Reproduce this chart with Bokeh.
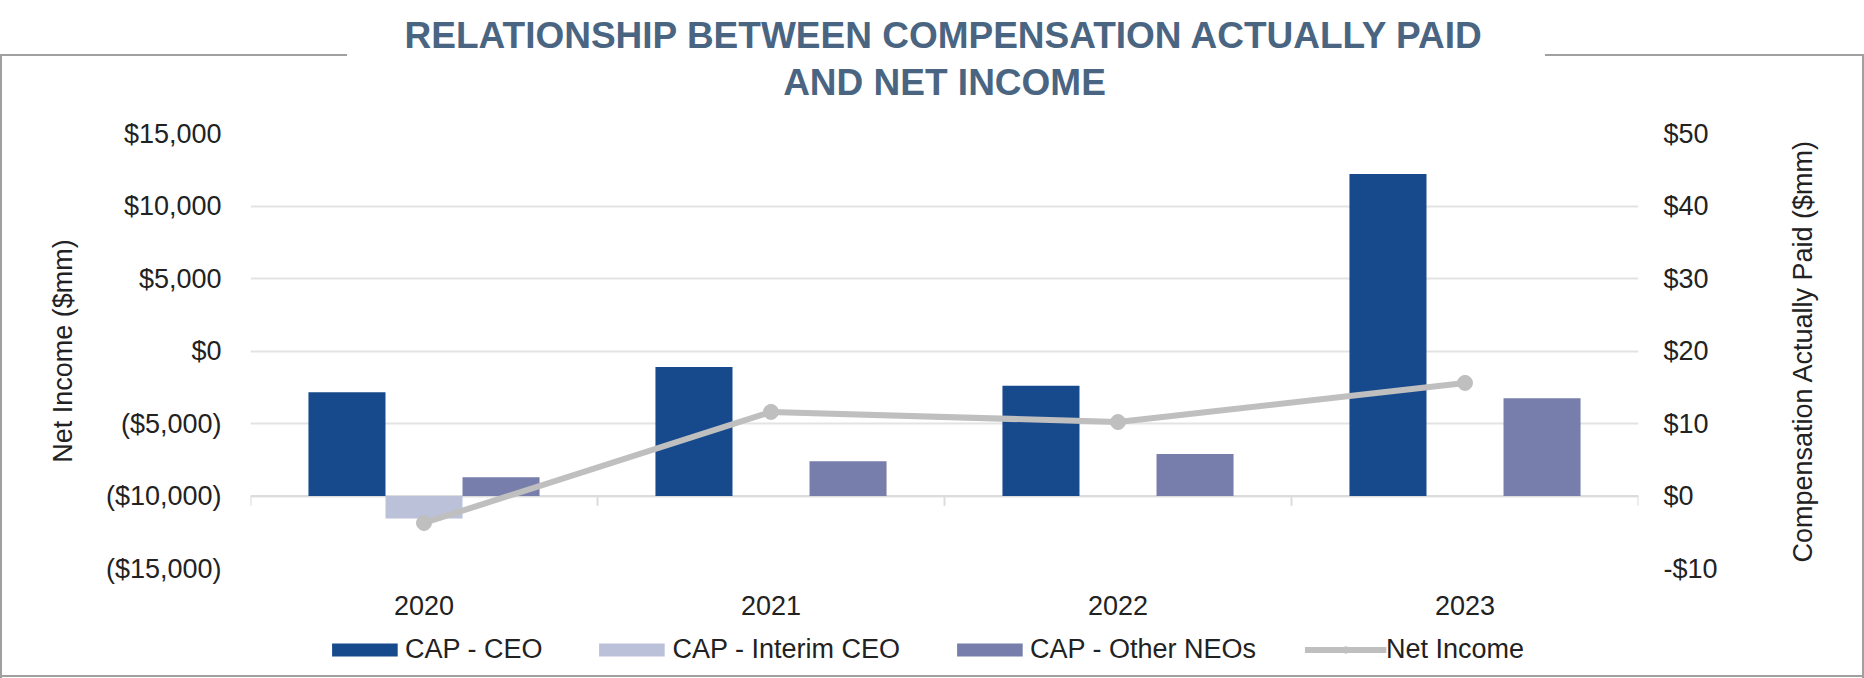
import math
import numpy as np
from bokeh.plotting import figure
from bokeh.layouts import column, row
from bokeh.models import (Range1d, LinearAxis, FixedTicker, Legend, LegendItem,
                          Title, ColumnDataSource)
from bokeh.core.properties import value
from bokeh.embed import file_html
from bokeh.resources import INLINE

# ---------------- data ----------------
years = ["2020", "2021", "2022", "2023"]
cap_ceo = [14.3, 17.8, 15.2, 44.4]            # $mm, right axis
cap_interim = [-3.1, np.nan, np.nan, np.nan]  # $mm, right axis
cap_other = [2.6, 4.8, 5.8, 13.5]             # $mm, right axis
net_income = [-11860, -4200, -4900, -2200]    # $mm, left axis

left_ticks = [-15000, -10000, -5000, 0, 5000, 10000, 15000]
left_tick_labels = ["($15,000)", "($10,000)", "($5,000)", "$0", "$5,000", "$10,000", "$15,000"]
right_ticks = [-10, 0, 10, 20, 30, 40, 50]
right_tick_labels = ["-$10", "$0", "$10", "$20", "$30", "$40", "$50"]

series_labels = ["CAP - CEO", "CAP - Interim CEO", "CAP - Other NEOs", "Net Income"]
title_lines = ["RELATIONSHIP BETWEEN COMPENSATION ACTUALLY PAID", "AND NET INCOME"]
left_axis_title = "Net Income ($mm)"
right_axis_title = "Compensation Actually Paid ($mm)"

# ---------------- styles ----------------
FONT = "Liberation Sans"
TXT = "#222222"
C_CEO = "#174a8c"
C_INT = "#bcc1da"
C_OTH = "#777eab"
C_NI = "#bfbfbf"
GRID = "#e3e3e3"
FRAME = "#a0a0a0"
TITLE_C = "#4a6582"

W, H = 1864, 678
H_MAIN = 620
W_RT = 104            # strip that carries the right-hand axis title
TOP, BOTTOM = 133, 52

n = len(years)
xc = np.arange(n) + 0.5
bw = 0.222

src = ColumnDataSource(dict(
    x=xc, x_ceo=xc - bw, x_int=xc, x_oth=xc + bw,
    ceo=cap_ceo, interim=cap_interim, other=cap_other, ni=net_income,
))

p = figure(width=W - W_RT, height=H_MAIN, x_range=Range1d(0, n),
           y_range=Range1d(left_ticks[0], left_ticks[-1]),
           output_backend="svg", toolbar_location=None, title=None,
           min_border_left=250, min_border_right=W - W_RT - 1638,
           min_border_top=TOP, min_border_bottom=BOTTOM)
p.extra_y_ranges = {"cap": Range1d(right_ticks[0], right_ticks[-1])}
p.outline_line_color = None
p.background_fill_color = None
p.border_fill_color = None

# grid
p.xgrid.visible = False
p.ygrid.ticker = FixedTicker(ticks=left_ticks)
p.ygrid.grid_line_color = GRID
p.ygrid.grid_line_width = 2

# x axis (category labels)
xa = p.xaxis[0]
xa.ticker = FixedTicker(ticks=list(xc))
xa.major_label_overrides = {float(v): y for v, y in zip(xc, years)}
xa.axis_line_color = None
xa.major_tick_line_color = None
xa.minor_tick_line_color = None
xa.major_label_text_font = FONT
xa.major_label_text_font_size = "27px"
xa.major_label_text_color = TXT
xa.major_label_standoff = 21

# left axis
ya = p.yaxis[0]
ya.ticker = FixedTicker(ticks=left_ticks)
ya.major_label_overrides = {v: s for v, s in zip(left_ticks, left_tick_labels)}
ya.axis_line_color = None
ya.major_tick_line_color = None
ya.minor_tick_line_color = None
ya.major_label_text_font = FONT
ya.major_label_text_font_size = "27px"
ya.major_label_text_color = TXT
ya.major_label_standoff = 23
ya.axis_label = left_axis_title
ya.axis_label_text_font = FONT
ya.axis_label_text_font_size = "27px"
ya.axis_label_text_font_style = "normal"
ya.axis_label_text_color = TXT
ya.axis_label_standoff = 25

# right axis (ticks + labels; its title lives in the narrow strip to the right)
ra = LinearAxis(y_range_name="cap", ticker=FixedTicker(ticks=right_ticks))
ra.major_label_overrides = {v: s for v, s in zip(right_ticks, right_tick_labels)}
ra.axis_line_color = None
ra.major_tick_line_color = None
ra.minor_tick_line_color = None
ra.major_label_text_font = FONT
ra.major_label_text_font_size = "27px"
ra.major_label_text_color = TXT
ra.major_label_standoff = 19
p.add_layout(ra, "right")

# category axis line at CAP = 0 with boundary ticks
bounds = np.arange(n + 1)
p.segment(x0=[bounds[0]], x1=[bounds[-1]], y0=[0], y1=[0], y_range_name="cap",
          line_color="#dcdcdc", line_width=2)
p.segment(x0=bounds, x1=bounds, y0=np.zeros(n + 1), y1=np.full(n + 1, -1.35), y_range_name="cap",
          line_color="#dcdcdc", line_width=2)

# bars
r1 = p.vbar(x="x_ceo", top="ceo", bottom=0, width=bw, y_range_name="cap", source=src,
            fill_color=C_CEO, line_color=None)
r2 = p.vbar(x="x_int", top="interim", bottom=0, width=bw, y_range_name="cap", source=src,
            fill_color=C_INT, line_color=None)
r3 = p.vbar(x="x_oth", top="other", bottom=0, width=bw, y_range_name="cap", source=src,
            fill_color=C_OTH, line_color=None)

# net income line
r4 = p.line(x="x", y="ni", source=src, line_color=C_NI, line_width=6)
r5 = p.scatter(x="x", y="ni", source=src, size=15, fill_color=C_NI, line_color=C_NI)

# blank, tiny title directly above the frame: keeps a gap between frame and title
p.add_layout(Title(text=" ", text_font_size="1px", standoff=26), "above")

# two title lines (first added sits closest to the frame)
for line in reversed(title_lines):
    p.add_layout(Title(text=line, align="center", text_font=FONT, text_font_size="37px",
                       text_font_style="bold", text_color=TITLE_C, standoff=4), "above")

# ---------------- right axis title strip ----------------
rt = figure(width=W_RT, height=H_MAIN, x_range=Range1d(0, 1),
            y_range=Range1d(right_ticks[0], right_ticks[-1]),
            output_backend="svg", toolbar_location=None, title=None,
            min_border_left=0, min_border_right=0, min_border_top=TOP, min_border_bottom=BOTTOM)
rt.axis.visible = False
rt.grid.visible = False
rt.outline_line_color = None
rt.background_fill_color = None
rt.border_fill_color = None
rt.text(x=[0.41], y=[(right_ticks[0] + right_ticks[-1]) / 2], text=[right_axis_title],
        angle=math.pi / 2, text_align="center", text_baseline="middle",
        text_font=value(FONT), text_font_size="27px", text_color=TXT)

# ---------------- legend strip ----------------
q = figure(width=W, height=H - H_MAIN, x_range=Range1d(0, 1), y_range=Range1d(0, 1),
           output_backend="svg", toolbar_location=None, title=None,
           min_border_left=0, min_border_right=17, min_border_top=0, min_border_bottom=0)
q.axis.visible = False
q.grid.visible = False
q.outline_line_color = None
q.background_fill_color = None
q.border_fill_color = None
k1 = q.vbar(x="x_ceo", top="ceo", width=bw, source=src, fill_color=C_CEO, line_color=None, visible=False)
k2 = q.vbar(x="x_int", top="interim", width=bw, source=src, fill_color=C_INT, line_color=None, visible=False)
k3 = q.vbar(x="x_oth", top="other", width=bw, source=src, fill_color=C_OTH, line_color=None, visible=False)
k4 = q.line(x="x", y="ni", source=src, line_color=C_NI, line_width=6, visible=False)
k5 = q.scatter(x="x", y="ni", source=src, size=15, fill_color=C_NI, line_color=C_NI, visible=False)

legend = Legend(items=[
    LegendItem(label=series_labels[0], renderers=[k1]),
    LegendItem(label=series_labels[1], renderers=[k2]),
    LegendItem(label=series_labels[2], renderers=[k3]),
    LegendItem(label=series_labels[3], renderers=[k4, k5]),
], orientation="horizontal", location="center",
    glyph_width=82, glyph_height=16, label_standoff=0, spacing=48,
    label_text_font=FONT, label_text_font_size="27px", label_text_color=TXT,
    inactive_fill_alpha=0,
    border_line_color=None, background_fill_alpha=0, padding=0, margin=0)
q.add_layout(legend)

# outer grey frame (open at the top behind the title)
grad = "linear-gradient(%s, %s)" % (FRAME, FRAME)
frame_css = {
    "background-image": ", ".join([grad] * 5),
    "background-position": "0px 54px, 1862px 54px, 0px 675px, 0px 54px, 1545px 54px",
    "background-size": "2px 624px, 2px 624px, 1864px 2px, 347px 2px, 319px 2px",
    "background-repeat": "no-repeat",
}
layout = column(row(p, rt, spacing=0), q, spacing=0, styles=frame_css)

open("out.html", "w").write(file_html(layout, INLINE))
